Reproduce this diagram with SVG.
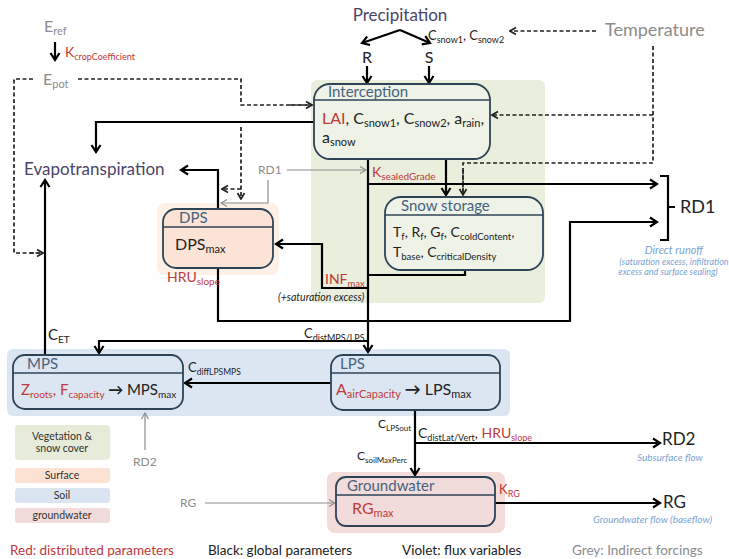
<svg xmlns="http://www.w3.org/2000/svg" width="729" height="559" viewBox="0 0 729 559">
<defs>
<style>
text{font-family:Lato,"Open Sans","Liberation Sans",sans-serif;fill:#222}
.red{fill:#c0393b}
.grey{fill:#8c8c8c}
.vio{fill:#4a4568}
.ttl{font-size:15px;fill:#46627e}
.box{stroke:#2f4357;stroke-width:1.8}
.hl{stroke:#2f4357;stroke-width:1.5}
.f{fill:none;stroke:#000;stroke-width:2.2;marker-end:url(#a)}
.fl{fill:none;stroke:#000;stroke-width:2.2}
.d{fill:none;stroke:#222;stroke-width:1.7;stroke-dasharray:4 2.5}
.da{marker-end:url(#ad)}
.g{fill:none;stroke:#8c8c8c;stroke-width:1.2;marker-end:url(#ag)}
.it{font-style:italic;fill:#7aa3d4}
.lg{font-size:10.5px;fill:#333;text-anchor:middle}
</style>
<marker id="a" viewBox="0 0 12 12" refX="10" refY="6" markerWidth="12" markerHeight="12" markerUnits="userSpaceOnUse" orient="auto"><path d="M3,1.5 L10,6 L3,10.5" fill="none" stroke="#000" stroke-width="2.2"/></marker>
<marker id="ad" viewBox="0 0 10 10" refX="9" refY="5" markerWidth="10" markerHeight="10" markerUnits="userSpaceOnUse" orient="auto"><path d="M3,1.5 L9,5 L3,8.5" fill="none" stroke="#222" stroke-width="1.7"/></marker>
<marker id="ag" viewBox="0 0 10 10" refX="9" refY="5" markerWidth="10" markerHeight="10" markerUnits="userSpaceOnUse" orient="auto"><path d="M3,1.5 L9,5 L3,8.5" fill="none" stroke="#8c8c8c" stroke-width="1.2"/></marker>
</defs>
<rect width="729" height="559" fill="#fff"/>

<g id="regions">
<rect x="311" y="80" width="234" height="223" rx="6" fill="#e9eedd"/>
<rect x="7" y="349" width="503" height="67" rx="6" fill="#dce6f2"/>
<rect x="327" y="472" width="178" height="61" rx="8" fill="#f3dcda"/>
<rect x="157" y="203" width="122" height="72" rx="8" fill="#fdf0e6"/>
</g>

<g id="connectors">
<path class="f" d="M400,30 L362,43"/>
<path class="f" d="M400,30 L430,43"/>
<path class="f" d="M367,66 V83"/>
<path class="f" d="M429,66 V83"/>
<path class="f" d="M55,42 V60"/>
<path class="d da" d="M596,31 H510"/>
<path class="d" d="M653,46 V163 H463 V195"/>
<path class="d da" d="M463,170 V195"/>
<path class="d da" d="M653,115 H492"/>
<path class="d" d="M33,79 H14 V253 H43"/>
<path class="d da" d="M30,253 H43"/>
<path class="d" d="M78,79 H241 V105 H312"/>
<path class="d da" d="M290,105 H312"/>
<path class="d da" d="M241,127 V199"/>
<path class="d da" d="M241,189 H222"/>
<path class="f" d="M314,122 H96 V152"/>
<path class="f" d="M218,209 V170 H181"/>
<path class="f" d="M368,159 V352"/>
<path class="f" d="M368,184 H657"/>
<path class="f" d="M446,159 V195"/>
<path class="fl" d="M465,270 V275 H368"/>
<path class="f" d="M368,288 H322 V244 H276"/>
<path class="f" d="M218,268 V321 H570 V222 H657"/>
<path class="fl" d="M660,176 H668 V240 H660 M668,207 H675"/>
<path class="f" d="M368,341 H99 V353"/>
<path class="f" d="M45,355 V180"/>
<path class="f" d="M331,383 H185"/>
<path class="f" d="M415,410 V475"/>
<path class="f" d="M415,443 H660"/>
<path class="f" d="M495,503 H660"/>
<path class="g" d="M287,170 H366"/>
<path class="g" d="M268,180 V203 H221"/>
<path class="g" d="M145,450 V413"/>
<path class="g" d="M205,503 H335"/>
</g>

<g id="interception">
<rect class="box" x="314" y="84" width="176" height="75" rx="16" fill="#eef2e7"/>
<line class="hl" x1="314" y1="100" x2="490" y2="100"/>
<text class="ttl" x="328" y="97">Interception</text>
<text x="322" y="124" font-size="16"><tspan class="red">LAI</tspan>, C<tspan font-size="11" dy="3">snow1</tspan><tspan dy="-3">, C</tspan><tspan font-size="11" dy="3">snow2</tspan><tspan dy="-3">, a</tspan><tspan font-size="11" dy="3">rain</tspan><tspan dy="-3">,</tspan></text>
<text x="322" y="143" font-size="16">a<tspan font-size="11" dy="3">snow</tspan></text>
</g>

<g id="snowstorage">
<rect class="box" x="385" y="197" width="158" height="73" rx="16" fill="#eef2e7"/>
<line class="hl" x1="385" y1="215" x2="543" y2="215"/>
<text class="ttl" x="401" y="211" font-size="16">Snow storage</text>
<text x="393" y="237" font-size="14">T<tspan font-size="9.5" dy="3">f</tspan><tspan dy="-3">, R</tspan><tspan font-size="9.5" dy="3">f</tspan><tspan dy="-3">, G</tspan><tspan font-size="9.5" dy="3">f</tspan><tspan dy="-3">, C</tspan><tspan font-size="9.5" dy="3">coldContent</tspan><tspan dy="-3">,</tspan></text>
<text x="393" y="257" font-size="14">T<tspan font-size="9.5" dy="3">base</tspan><tspan dy="-3">, C</tspan><tspan font-size="9.5" dy="3">criticalDensity</tspan></text>
</g>

<g id="dps">
<rect class="box" x="163" y="209" width="110" height="59" rx="13" fill="#fbe4d5"/>
<line class="hl" x1="163" y1="227" x2="273" y2="227"/>
<text class="ttl" x="179" y="223">DPS</text>
<text x="175" y="250" font-size="16">DPS<tspan font-size="11" dy="3">max</tspan></text>
</g>

<g id="mps">
<rect class="box" x="13" y="355" width="170" height="54" rx="12" fill="#dce6f2"/>
<line class="hl" x1="13" y1="373" x2="183" y2="373"/>
<text class="ttl" x="27" y="369">MPS</text>
<text x="21" y="395" font-size="15"><tspan class="red">Z</tspan><tspan class="red" font-size="10" dy="3">roots</tspan><tspan class="red" dy="-3">, F</tspan><tspan class="red" font-size="10" dy="3">capacity</tspan><tspan dy="-3" font-weight="bold"> → </tspan>MPS<tspan font-size="10" dy="3">max</tspan></text>
</g>

<g id="lps">
<rect class="box" x="331" y="355" width="169" height="55" rx="12" fill="#dce6f2"/>
<line class="hl" x1="331" y1="373" x2="500" y2="373"/>
<text class="ttl" x="340" y="369">LPS</text>
<text x="336" y="395" font-size="16"><tspan class="red">A</tspan><tspan class="red" font-size="11" dy="3">airCapacity</tspan><tspan dy="-3" font-weight="bold"> → </tspan>LPS<tspan font-size="11" dy="3">max</tspan></text>
</g>

<g id="groundwater">
<rect class="box" x="336" y="477" width="159" height="49" rx="10" fill="#f2dcdb"/>
<line class="hl" x1="336" y1="495" x2="495" y2="495"/>
<text class="ttl" x="347" y="491" font-size="16">Groundwater</text>
<text class="red" x="352" y="514" font-size="16">RG<tspan font-size="11" dy="3">max</tspan></text>
</g>

<g id="labels">
<text class="vio" x="400" y="21" font-size="17" text-anchor="middle">Precipitation</text>
<text x="428" y="40" font-size="13">C<tspan font-size="9" dy="3">snow1</tspan><tspan dy="-3">, C</tspan><tspan font-size="9" dy="3">snow2</tspan></text>
<text x="367" y="63" font-size="16" text-anchor="middle" fill="#333">R</text>
<text x="429" y="63" font-size="16" text-anchor="middle" fill="#333">S</text>
<text class="grey" x="605" y="36" font-size="18">Temperature</text>
<text class="grey" x="44" y="32" font-size="16">E<tspan font-size="11" dy="3">ref</tspan></text>
<text class="red" x="65" y="57" font-size="14">K<tspan font-size="9" dy="3">cropCoefficient</tspan></text>
<text class="grey" x="43" y="85" font-size="16">E<tspan font-size="11" dy="3">pot</tspan></text>
<text class="vio" x="24" y="175" font-size="17">Evapotranspiration</text>
<text class="grey" x="258" y="174" font-size="12">RD1</text>
<text class="red" x="372" y="177" font-size="14">K<tspan font-size="10" dy="3">sealedGrade</tspan></text>
<text class="red" x="325" y="284" font-size="14">INF<tspan font-size="9.5" dy="3">max</tspan></text>
<text x="278" y="301" font-size="10.5" font-style="italic" fill="#333">(+saturation excess)</text>
<text class="red" x="167" y="282" font-size="14">HRU<tspan font-size="10" dy="3">slope</tspan></text>
<text x="680" y="213" font-size="18" fill="#333">RD1</text>
<text class="it" x="674" y="254" font-size="11" text-anchor="middle">Direct runoff</text>
<text class="it" x="674" y="265" font-size="9" text-anchor="middle">(saturation excess, infiltration</text>
<text class="it" x="668" y="275" font-size="9" text-anchor="middle">excess and surface sealing)</text>
<text x="304" y="338" font-size="13">C<tspan font-size="9" dy="3">distMPS/LPS</tspan></text>
<text x="48" y="340" font-size="15">C<tspan font-size="10" dy="3">ET</tspan></text>
<text x="188" y="372" font-size="13">C<tspan font-size="8.5" dy="3">diffLPSMPS</tspan></text>
<text class="grey" x="133" y="466" font-size="12">RD2</text>
<text class="grey" x="180" y="507" font-size="12">RG</text>
<text x="378" y="428" font-size="12">C<tspan font-size="8" dy="3">LPSout</tspan></text>
<text x="418" y="438" font-size="14">C<tspan font-size="9" dy="3">distLat/Vert</tspan><tspan dy="-3">, </tspan><tspan class="red">HRU</tspan><tspan class="red" font-size="9" dy="3">slope</tspan></text>
<text x="357" y="460" font-size="12">C<tspan font-size="8" dy="3">soilMaxPerc</tspan></text>
<text x="662" y="445" font-size="17" fill="#333">RD2</text>
<text class="it" x="637" y="461" font-size="10">Subsurface flow</text>
<text class="red" x="499" y="494" font-size="13">K<tspan font-size="9" dy="3">RG</tspan></text>
<text x="663" y="508" font-size="17" fill="#333">RG</text>
<text class="it" x="593" y="523" font-size="10">Groundwater flow (baseflow)</text>
</g>

<g id="legend">
<rect x="15" y="425" width="95" height="35" rx="4" fill="#e6ecd9"/>
<text class="lg" x="62" y="440">Vegetation &amp;</text>
<text class="lg" x="62" y="452">snow cover</text>
<rect x="15" y="468" width="95" height="15" rx="3" fill="#fbe2d2"/>
<text class="lg" x="62" y="479">Surface</text>
<rect x="15" y="488" width="95" height="15" rx="3" fill="#dbe5f1"/>
<text class="lg" x="62" y="499">Soil</text>
<rect x="15" y="508" width="95" height="15" rx="3" fill="#f2dcdb"/>
<text class="lg" x="62" y="519">groundwater</text>
<text class="red" x="10" y="555" font-size="13.5">Red: distributed parameters</text>
<text x="208" y="555" font-size="13.5">Black: global parameters</text>
<text x="402" y="555" font-size="13.5">Violet: flux variables</text>
<text class="grey" x="572" y="555" font-size="13.5">Grey: Indirect forcings</text>
</g>
</svg>
